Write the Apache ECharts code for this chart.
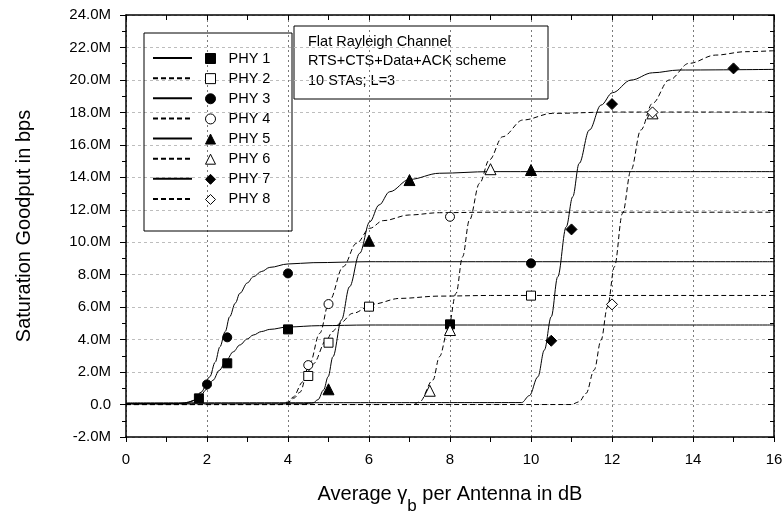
<!DOCTYPE html>
<html>
<head>
<meta charset="utf-8">
<script src="https://cdn.jsdelivr.net/npm/echarts@6/dist/echarts.min.js"></script>
<style>
  html, body { margin: 0; padding: 0; background: #fff; }
  #chart { width: 783px; height: 514px; }
</style>
</head>
<body>
<div id="chart"></div>
<script>
// goodput in Mbps, x in dB
var phyNames = ['PHY 1', 'PHY 2', 'PHY 3', 'PHY 4', 'PHY 5', 'PHY 6', 'PHY 7', 'PHY 8'];

// analytical curves
var curve1 = [[0, 0.05], [1.2, 0.05], [1.4, 0.08], [1.6, 0.18], [1.8, 0.42], [2.0, 0.95], [2.15, 1.5], [2.3, 2.1], [2.48, 2.74], [2.65, 3.25], [2.81, 3.67], [3.0, 4.05], [3.14, 4.28], [3.35, 4.5], [3.55, 4.63], [4.0, 4.78], [4.78, 4.86], [6, 4.9], [16, 4.9]];
var curve2 = [[0, 0], [3.8, 0], [4.0, 0.08], [4.12, 0.45], [4.37, 1.4], [4.62, 2.5], [4.95, 3.97], [5.1, 4.5], [5.28, 5.0], [5.6, 5.62], [6.1, 6.19], [6.76, 6.54], [7.74, 6.68], [9, 6.72], [16, 6.72]];
var curve3 = [[0, 0.05], [1.3, 0.05], [1.5, 0.1], [1.66, 0.25], [1.85, 0.75], [2.07, 1.71], [2.2, 2.6], [2.32, 3.56], [2.45, 4.5], [2.56, 5.41], [2.7, 6.25], [2.81, 6.85], [3.0, 7.5], [3.14, 7.87], [3.35, 8.2], [3.55, 8.45], [4.0, 8.66], [4.62, 8.74], [6, 8.8], [16, 8.8]];
var curve4 = [[0, 0], [3.8, 0], [4.0, 0.15], [4.15, 0.4], [4.29, 0.75], [4.54, 2.54], [4.78, 4.38], [5.03, 6.44], [5.36, 8.49], [5.69, 9.93], [6.02, 10.86], [6.35, 11.33], [7.0, 11.68], [7.74, 11.82], [9, 11.85], [16, 11.85]];
var curve5 = [[0, 0.05], [4.4, 0.05], [4.62, 0.1], [4.74, 0.3], [4.88, 0.9], [4.99, 1.71], [5.11, 2.95], [5.32, 5.21], [5.52, 7.26], [5.77, 9.32], [6.02, 11.26], [6.25, 12.3], [6.51, 13.11], [7.0, 13.87], [7.74, 14.25], [9, 14.35], [16, 14.35]];
var curve6 = [[0, 0], [7.1, 0], [7.25, 0.17], [7.58, 1.51], [7.74, 2.95], [7.95, 4.59], [8.15, 6.85], [8.31, 9.1], [8.48, 11.37], [8.73, 13.63], [8.97, 15.07], [9.3, 16.5], [9.8, 17.53], [10.53, 17.94], [12, 18.02], [16, 18.02]];
var curve7 = [[0, 0.1], [9.77, 0.12], [9.96, 0.55], [10.17, 1.71], [10.33, 3.36], [10.5, 5.41], [10.66, 7.87], [10.87, 10.95], [11.03, 12.8], [11.19, 14.86], [11.44, 16.91], [11.73, 18.45], [12.01, 19.21], [12.47, 19.99], [13.0, 20.44], [13.66, 20.61], [16, 20.65]];
var curve8 = [[0, 0], [11.0, 0], [11.19, 0.17], [11.36, 0.69], [11.56, 2.13], [11.73, 3.97], [11.89, 6.03], [12.06, 8.49], [12.26, 11.78], [12.47, 14.45], [12.71, 16.91], [13.0, 18.56], [13.41, 19.99], [13.9, 21.02], [14.56, 21.53], [15.3, 21.74], [16, 21.8]];

// simulation points
var sim1 = [[1.8, 0.38], [2.5, 2.54], [4, 4.63], [8, 4.94]];
var sim2 = [[4.5, 1.76], [5, 3.81], [6, 6.03], [10, 6.71]];
var sim3 = [[2, 1.24], [2.5, 4.14], [4, 8.08], [10, 8.7]];
var sim4 = [[4.5, 2.43], [5, 6.19], [8, 11.57]];
var sim5 = [[5, 0.94], [6, 10.09], [7, 13.83], [10, 14.45]];
var sim6 = [[7.5, 0.85], [8, 4.59], [9, 14.5], [13, 17.94]];
var sim7 = [[10.5, 3.93], [11, 10.79], [12, 18.51], [15, 20.71]];
var sim8 = [[12, 6.17], [13, 18.0]];

var xTicks = { min: 0, max: 16, step: 2 };
var yTicks = { min: -2, max: 24, step: 2 };

var curves = [curve1, curve2, curve3, curve4, curve5, curve6, curve7, curve8];
var sims = [sim1, sim2, sim3, sim4, sim5, sim6, sim7, sim8];
var shapes = ['rect', 'rect', 'circle', 'circle', 'triangle', 'triangle', 'diamond', 'diamond'];
var sizes = { rect: 9, circle: 9, triangle: 11, diamond: 11 };

var FONT = '"Liberation Sans", Arial, sans-serif';

var myChart = echarts.init(document.getElementById('chart'));

var series = [];
var curveNames = [];
for (var i = 0; i < phyNames.length; i++) {
  var dashed = i % 2 === 1;
  var cname = phyNames[i] + ' theory';
  curveNames.push(cname);
  series.push({
    type: 'line',
    name: cname,
    data: curves[i],
    symbol: 'none',
    showSymbol: false,
    smooth: 0.35,
    smoothMonotone: 'x',
    lineStyle: { color: '#000', width: 1, type: dashed ? [5, 3] : 'solid' },
    itemStyle: { color: '#000' },
    silent: true,
    z: 2
  });
}
for (var j = 0; j < phyNames.length; j++) {
  var open = j % 2 === 1;
  series.push({
    type: 'scatter',
    name: phyNames[j],
    data: sims[j],
    symbol: shapes[j],
    symbolSize: sizes[shapes[j]],
    itemStyle: {
      color: open ? '#fff' : '#000',
      borderColor: '#000',
      borderWidth: 1,
      opacity: 1
    },
    silent: true,
    z: 4
  });
}

var axisLine = { show: true, onZero: false, lineStyle: { color: '#000', width: 1.5 } };

myChart.setOption({
  animation: false,
  backgroundColor: '#fff',
  textStyle: { fontFamily: FONT },
  grid: { left: 126, right: 9, top: 15, bottom: 77, containLabel: false, outerBoundsMode: 'none' },
  xAxis: [
    {
      type: 'value',
      position: 'bottom',
      min: xTicks.min, max: xTicks.max, interval: xTicks.step,
      axisLine: axisLine,
      axisTick: { show: true, inside: false, length: 5, lineStyle: { color: '#000', width: 1 } },
      minorTick: { show: true, splitNumber: 2, length: 5, lineStyle: { color: '#000', width: 1 } },
      axisLabel: { color: '#000', fontSize: 15, margin: 15, fontFamily: FONT },
      splitLine: { show: true, lineStyle: { color: '#7a7a7a', width: 1, type: [2, 3] } },
      name: '{t|Average }{t|γ}{s|b}{t| per Antenna in dB}',
      nameLocation: 'middle',
      nameGap: 46,
      nameTextStyle: {
        rich: {
          t: { fontSize: 20, lineHeight: 22, color: '#000', fontFamily: FONT },
          s: { fontSize: 17, lineHeight: 22, padding: [24, 0, 0, 0], color: '#000', fontFamily: FONT }
        }
      }
    },
    {
      type: 'value',
      position: 'top',
      min: xTicks.min, max: xTicks.max, interval: xTicks.step,
      axisLine: axisLine,
      axisTick: { show: true, inside: true, length: 5, lineStyle: { color: '#000', width: 1 } },
      minorTick: { show: true, splitNumber: 2, length: 5, lineStyle: { color: '#000', width: 1 } },
      axisLabel: { show: false },
      splitLine: { show: false }
    }
  ],
  yAxis: [
    {
      type: 'value',
      position: 'left',
      min: yTicks.min, max: yTicks.max, interval: yTicks.step,
      axisLine: axisLine,
      axisTick: { show: true, inside: false, length: 6, lineStyle: { color: '#000', width: 1 } },
      minorTick: { show: true, splitNumber: 2, length: 4, lineStyle: { color: '#000', width: 1 } },
      axisLabel: {
        color: '#000', fontSize: 15, margin: 15, fontFamily: FONT,
        formatter: function (v) { return v === 0 ? '0.0' : v.toFixed(1) + 'M'; }
      },
      splitLine: { show: true, lineStyle: { color: '#bdbdbd', width: 1, type: [3, 3] } },
      name: 'Saturation Goodput in bps',
      nameLocation: 'middle',
      nameRotate: 90,
      nameGap: 92,
      nameTextStyle: { fontSize: 20, color: '#000', fontFamily: FONT }
    },
    {
      type: 'value',
      position: 'right',
      min: yTicks.min, max: yTicks.max, interval: yTicks.step,
      axisLine: axisLine,
      axisTick: { show: true, inside: true, length: 6, lineStyle: { color: '#000', width: 1 } },
      minorTick: { show: true, splitNumber: 2, length: 4, lineStyle: { color: '#000', width: 1 } },
      axisLabel: { show: false },
      splitLine: { show: false }
    }
  ],
  legend: [
    {
      data: curveNames,
      orient: 'vertical',
      left: 147, top: 49,
      itemWidth: 39, itemHeight: 10, itemGap: 12.14,
      formatter: function () { return ''; },
      selectedMode: false,
      itemStyle: { color: 'transparent', borderColor: 'transparent', borderWidth: 0 },
      textStyle: { fontSize: 14.5, lineHeight: 14 }
    },
    {
      data: phyNames,
      orient: 'vertical',
      left: 200, top: 46,
      itemWidth: 10, itemHeight: 10, itemGap: 5.14,
      selectedMode: false,
      itemStyle: { borderWidth: 1 },
      textStyle: { fontSize: 14.5, lineHeight: 14, color: '#000', fontFamily: FONT, padding: [0, 0, 0, 8] }
    }
  ],
  graphic: [
    {
      type: 'rect',
      shape: { x: 144, y: 33, width: 148, height: 198 },
      style: { fill: 'none', stroke: '#000', lineWidth: 1 },
      z: 10, silent: true
    },
    {
      type: 'group',
      z: 10,
      children: [
        {
          type: 'rect',
          shape: { x: 294, y: 26, width: 254, height: 73 },
          style: { fill: '#fff', stroke: '#000', lineWidth: 1 },
          silent: true
        },
        {
          type: 'text',
          x: 308, y: 32,
          style: {
            text: 'Flat Rayleigh Channel\nRTS+CTS+Data+ACK scheme\n10 STAs; L=3',
            font: '14.5px ' + FONT,
            lineHeight: 19.5,
            fill: '#000'
          },
          silent: true
        }
      ]
    }
  ],
  series: series
});
</script>
</body>
</html>
